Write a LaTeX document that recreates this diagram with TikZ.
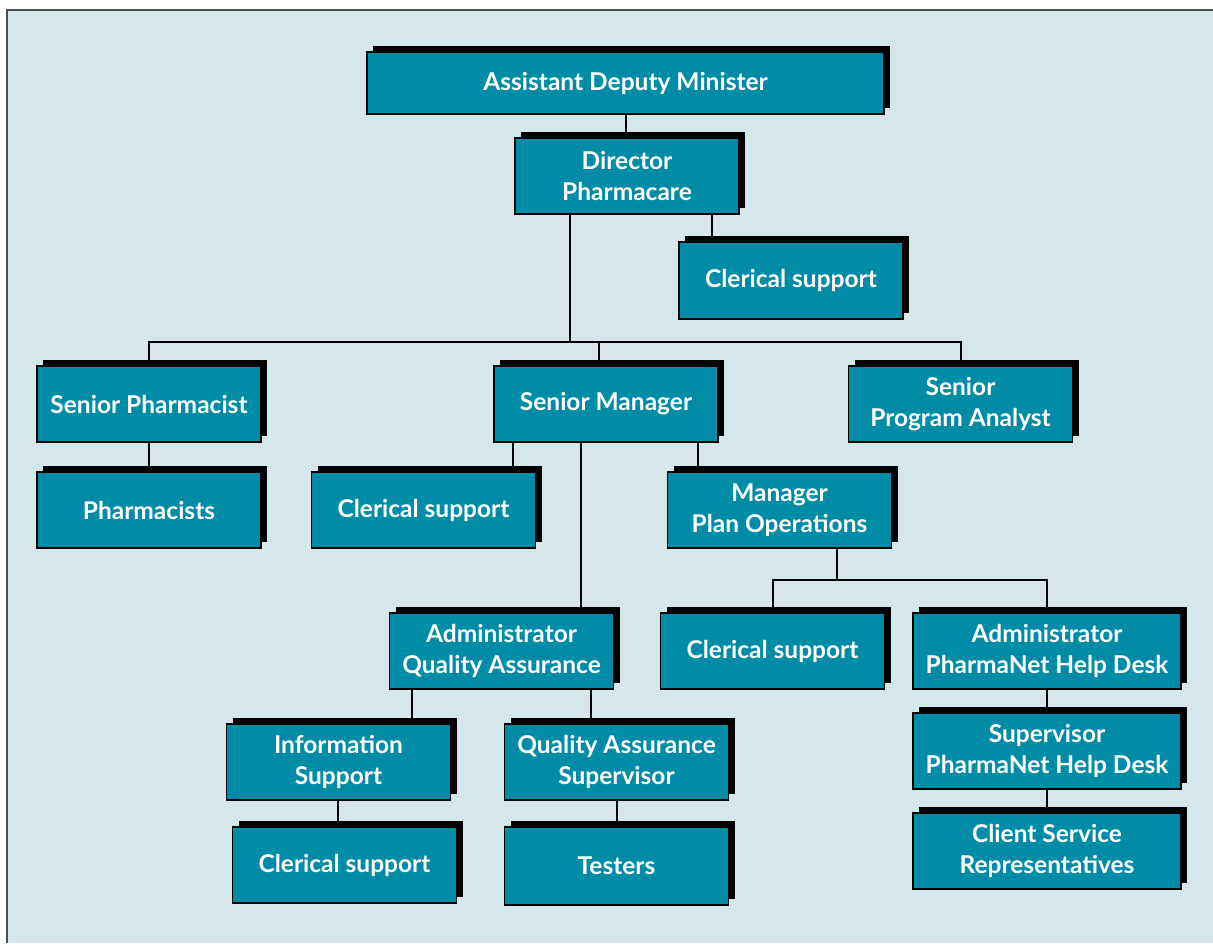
\documentclass[tikz,border=0pt]{standalone}
\usepackage{fontspec}
\setmainfont{Lato}
\usetikzlibrary{shadows,calc}
\definecolor{teal1}{HTML}{008CA7}
\definecolor{bgc}{HTML}{D6E7EC}
\definecolor{frame}{HTML}{4A4F50}
\tikzset{
  orgbox/.style={draw=black, line width=1.6pt, fill=teal1, text=white,
    font=\fontsize{24.5}{31}\selectfont\bfseries, align=center,
    minimum width=224pt, minimum height=76pt, inner sep=0pt,
    general shadow={fill=black, shadow xshift=6pt, shadow yshift=6pt}},
  link/.style={draw=black, line width=2pt}
}
\begin{document}
\begin{tikzpicture}[x=1pt,y=-1pt]
\useasboundingbox (0,0) rectangle (1213,943);
\fill[bgc] (7,10) rectangle (1213,943);
\draw[frame, line width=2pt] (7,943) -- (7,10) -- (1213,10);

\node[orgbox, minimum width=517pt, minimum height=62pt] (adm) at (625.5,83) {Assistant Deputy Minister};
\node[orgbox] (dir) at (627,176) {Director\\Pharmacare};
\node[orgbox, minimum height=77pt] (cs1) at (791,280.5) {Clerical support};
\node[orgbox] (sp) at (149,404) {Senior Pharmacist};
\node[orgbox] (sm) at (606,404) {Senior Manager};
\node[orgbox] (spa) at (960.5,404) {Senior\\Program Analyst};
\node[orgbox] (ph) at (149,510) {Pharmacists};
\node[orgbox] (cs2) at (423.5,510) {Clerical support};
\node[orgbox] (mpo) at (779.5,510) {Manager\\Plan Operations};
\node[orgbox] (aqa) at (501.5,651) {Administrator\\Quality Assurance};
\node[orgbox] (cs3) at (772.5,651) {Clerical support};
\node[orgbox, minimum width=268pt] (aphd) at (1047,651) {Administrator\\PharmaNet Help Desk};
\node[orgbox, minimum width=268pt] (sphd) at (1047,751) {Supervisor\\PharmaNet Help Desk};
\node[orgbox, minimum width=268pt] (csr) at (1047,851) {Client Service\\Representatives};
\node[orgbox] (is) at (338.5,762) {Information\\Support};
\node[orgbox] (qas) at (616.5,762) {Quality Assurance\\Supervisor};
\node[orgbox] (cs4) at (344.5,865) {Clerical support};
\node[orgbox, minimum height=78pt] (test) at (616.5,866) {Testers};

\coordinate (bus1) at (570,342);
\coordinate (bus2) at (837,580);

\draw[link] (adm.south -| 626,0) -- (dir.north -| 626,0);
\draw[link] (dir.south -| 712,0) -- (cs1.north -| 712,0);
\draw[link] (dir.south -| bus1) -- (bus1);
\draw[link] (sp.north) |- (bus1) -| (spa.north);
\draw[link] (bus1) -| (sm.north -| 599,0);
\draw[link] (sp.south) -- (ph.north);
\draw[link] (sm.south -| 513,0) -- (cs2.north -| 513,0);
\draw[link] (sm.south -| 698,0) -- (mpo.north -| 698,0);
\draw[link] (sm.south -| 581,0) -- (aqa.north -| 581,0);
\draw[link] (mpo.south -| bus2) -- (bus2);
\draw[link] (cs3.north -| 773,0) |- (bus2) -| (aphd.north);
\draw[link] (aqa.south -| 412,0) -- (is.north -| 412,0);
\draw[link] (aqa.south -| 591,0) -- (qas.north -| 591,0);
\draw[link] (is.south -| 338,0) -- (cs4.north -| 338,0);
\draw[link] (qas.south -| 617,0) -- (test.north -| 617,0);
\draw[link] (aphd.south) -- (sphd.north);
\draw[link] (sphd.south) -- (csr.north);
\end{tikzpicture}
\end{document}
